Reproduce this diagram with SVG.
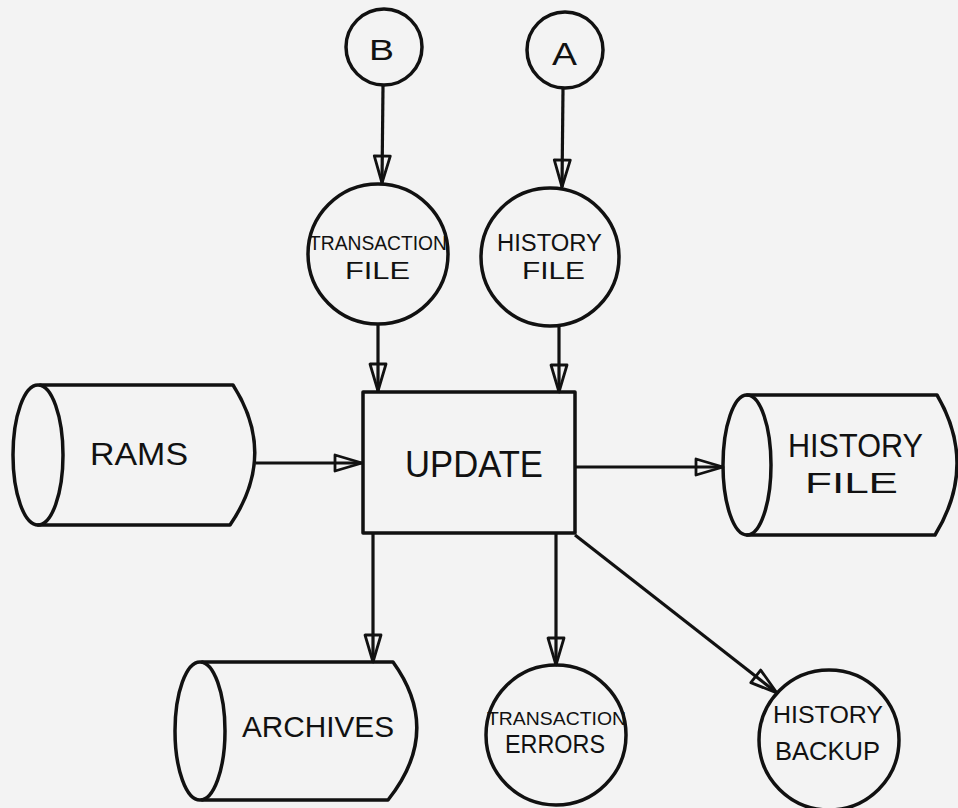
<svg xmlns="http://www.w3.org/2000/svg" width="958" height="808" viewBox="0 0 958 808">
<defs>
<style>
.bg{fill:#f3f3f3}
.sh{fill:none;stroke:#111;stroke-width:3.5;stroke-linejoin:round;stroke-linecap:round}
.ln{fill:none;stroke:#111;stroke-width:3.2;marker-end:url(#ah)}
.t{font-family:"Liberation Sans",Arial,sans-serif;fill:#111;text-anchor:start}
</style>
<marker id="ah" markerUnits="userSpaceOnUse" markerWidth="32" markerHeight="22" viewBox="0 0 32 22" refX="29" refY="11" orient="auto">
<path d="M2,3 L29,11 L2,19 Z" fill="none" stroke="#111" stroke-width="2.8" stroke-linejoin="round"/>
</marker>
</defs>
<rect class="bg" x="0" y="0" width="958" height="808"/>

<g id="connectors">
<path class="ln" d="M383,86 L382,183"/>
<path class="ln" d="M563,89 L562,187"/>
<path class="ln" d="M378,325 L378,391"/>
<path class="ln" d="M559,327 L559,392"/>
<path class="ln" d="M256,463 L362,463"/>
<path class="ln" d="M575,467 L723,467"/>
<path class="ln" d="M373,533 L373,662"/>
<path class="ln" d="M556,533 L556,665"/>
<path class="ln" d="M575,535 L777,693"/>
</g>

<g id="nodeB">
<circle class="sh" cx="384" cy="47" r="38"/>
<text class="t" x="369" y="60" font-size="30" textLength="25" lengthAdjust="spacingAndGlyphs">B</text>
</g>

<g id="nodeA">
<circle class="sh" cx="565" cy="50" r="38"/>
<text class="t" x="552" y="65" font-size="31" textLength="25" lengthAdjust="spacingAndGlyphs">A</text>
</g>

<g id="transactionFile">
<circle class="sh" cx="378" cy="254" r="70"/>
<text class="t" x="309" y="250" font-size="20" textLength="138" lengthAdjust="spacingAndGlyphs">TRANSACTION</text>
<text class="t" x="345" y="279" font-size="23" textLength="65" lengthAdjust="spacingAndGlyphs">FILE</text>
</g>

<g id="historyFileIn">
<circle class="sh" cx="550" cy="257" r="69"/>
<text class="t" x="497" y="251" font-size="23" textLength="105" lengthAdjust="spacingAndGlyphs">HISTORY</text>
<text class="t" x="522" y="279" font-size="23" textLength="63" lengthAdjust="spacingAndGlyphs">FILE</text>
</g>

<g id="update">
<rect class="sh" x="363" y="392" width="212" height="141"/>
<text class="t" x="405" y="477" font-size="37" textLength="138" lengthAdjust="spacingAndGlyphs">UPDATE</text>
</g>

<g id="rams">
<path class="sh" d="M40,385 L233,385 Q278,455 230,525 L38,525"/>
<ellipse class="sh" cx="38" cy="455" rx="25" ry="70"/>
<text class="t" x="90" y="465" font-size="32" textLength="98" lengthAdjust="spacingAndGlyphs">RAMS</text>
</g>

<g id="historyFileOut">
<path class="sh" d="M747,395 L937,395 Q978,465 935,535 L747,535"/>
<ellipse class="sh" cx="747" cy="465" rx="24" ry="70"/>
<text class="t" x="788" y="457" font-size="33" textLength="135" lengthAdjust="spacingAndGlyphs">HISTORY</text>
<text class="t" x="805" y="493" font-size="29" textLength="93" lengthAdjust="spacingAndGlyphs">FILE</text>
</g>

<g id="archives">
<path class="sh" d="M202,662 L393,662 Q443,731 388,800 L202,800"/>
<ellipse class="sh" cx="200" cy="731" rx="25" ry="69"/>
<text class="t" x="242" y="737" font-size="30" textLength="152" lengthAdjust="spacingAndGlyphs">ARCHIVES</text>
</g>

<g id="transactionErrors">
<circle class="sh" cx="556" cy="735" r="70"/>
<text class="t" x="487" y="725" font-size="18" textLength="139" lengthAdjust="spacingAndGlyphs">TRANSACTION</text>
<text class="t" x="505" y="753" font-size="25" textLength="100" lengthAdjust="spacingAndGlyphs">ERRORS</text>
</g>

<g id="historyBackup">
<circle class="sh" cx="829" cy="740" r="70"/>
<text class="t" x="773" y="723" font-size="23" textLength="110" lengthAdjust="spacingAndGlyphs">HISTORY</text>
<text class="t" x="775" y="760" font-size="25" textLength="105" lengthAdjust="spacingAndGlyphs">BACKUP</text>
</g>
</svg>
